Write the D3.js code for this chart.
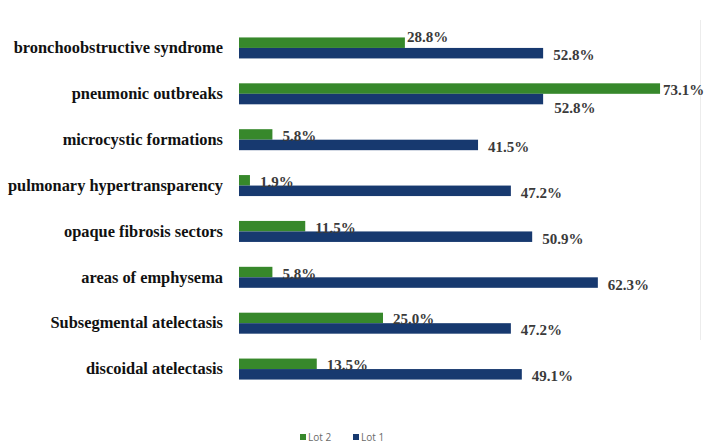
<!DOCTYPE html>
<html>
<head>
<meta charset="utf-8">
<script src="https://cdn.jsdelivr.net/npm/d3@7"></script>
<style>
  html, body { margin: 0; padding: 0; background: #fff; }
  svg { display: block; }
  .serif { font-family: "Liberation Serif", "DejaVu Serif", "Times New Roman", serif; font-weight: bold; }
</style>
</head>
<body>
<svg id="chart" width="710" height="448"></svg>
<script>
// Radiological findings by lot (percent of patients)
const categories = [
  "bronchoobstructive syndrome",
  "pneumonic outbreaks",
  "microcystic formations",
  "pulmonary hypertransparency",
  "opaque fibrosis sectors",
  "areas of emphysema",
  "Subsegmental atelectasis",
  "discoidal atelectasis"
];
const seriesNames = ["Lot 2", "Lot 1"];
const lot2 = [28.8, 73.1, 5.8, 1.9, 11.5, 5.8, 25.0, 13.5];
const lot1 = [52.8, 52.8, 41.5, 47.2, 50.9, 62.3, 47.2, 49.1];

const colors = { "Lot 2": "#37882b", "Lot 1": "#17396f" };

const svg = d3.select("#chart");

// percentage axis: 0..100 spans the plot width
const x = d3.scaleLinear().domain([0, 100]).range([239, 239 + 576]);
const y = d3.scaleBand().domain(categories).range([25, 392]).padding(0);
// two bars per category, stacked around the band centre
const inner = d3.scaleBand().domain(seriesNames)
  .range([y.bandwidth() / 2 - 10.5, y.bandwidth() / 2 + 10.5]).padding(0);

// faint right-hand frame line
svg.append("line")
  .attr("x1", 700.5).attr("x2", 700.5).attr("y1", 20).attr("y2", 340)
  .attr("stroke", "#ececec").attr("stroke-width", 1);

const rows = categories.map((c, i) => ({ cat: c, "Lot 2": lot2[i], "Lot 1": lot1[i] }));

const groups = svg.append("g").selectAll("g")
  .data(rows).join("g")
  .attr("transform", d => `translate(0,${y(d.cat)})`);

groups.selectAll("rect")
  .data(d => seriesNames.map(s => ({ s, v: d[s], cat: d.cat })))
  .join("rect")
  .attr("x", x(0))
  .attr("y", d => inner(d.s))
  .attr("width", d => x(d.v) - x(0))
  .attr("height", inner.bandwidth())
  .attr("fill", d => colors[d.s]);

// value labels; a few are nudged to avoid collisions
const nudge = {
  "bronchoobstructive syndrome|Lot 2": { dx: -8, dy: -7 },
  "pneumonic outbreaks|Lot 2": { dx: -7, dy: 0 },
  "pneumonic outbreaks|Lot 1": { dx: 1, dy: 7 }
};
const baseOffset = { "Lot 2": -4, "Lot 1": 7 };

groups.selectAll("text.val")
  .data(d => seriesNames.map(s => ({ s, v: d[s], cat: d.cat })))
  .join("text")
  .attr("class", "val serif")
  .attr("x", d => x(d.v) + 10 + ((nudge[d.cat + "|" + d.s] || {}).dx || 0))
  .attr("y", d => y.bandwidth() / 2 + baseOffset[d.s] + ((nudge[d.cat + "|" + d.s] || {}).dy || 0))
  .attr("dy", "0.35em")
  .style("font-size", "15px")
  .attr("fill", "#3a3a3a")
  .text(d => d.v.toFixed(1) + "%");

// category axis
const yAxis = svg.append("g")
  .attr("transform", `translate(${x(0)},0)`)
  .call(d3.axisLeft(y).tickSize(0).tickPadding(16));
yAxis.select(".domain").remove();
yAxis.attr("font-family", null).attr("font-size", null);
yAxis.selectAll("text")
  .attr("class", "serif")
  .style("font-size", "16.4px")
  .attr("fill", "#111");

// legend
const legend = svg.append("g").attr("transform", "translate(300,437)");
const legendX = [0, 53];
seriesNames.forEach((s, i) => {
  const g = legend.append("g").attr("transform", `translate(${legendX[i]},0)`);
  g.append("rect").attr("x", 0).attr("y", -3).attr("width", 6).attr("height", 6)
    .attr("fill", colors[s]);
  g.append("text").attr("x", 8).attr("y", 0).attr("dy", "0.35em")
    .attr("font-family", "'Open Sans', 'Liberation Sans', sans-serif")
    .attr("font-size", 10)
    .attr("fill", "#6a6a6a")
    .text(s);
});
</script>
</body>
</html>
